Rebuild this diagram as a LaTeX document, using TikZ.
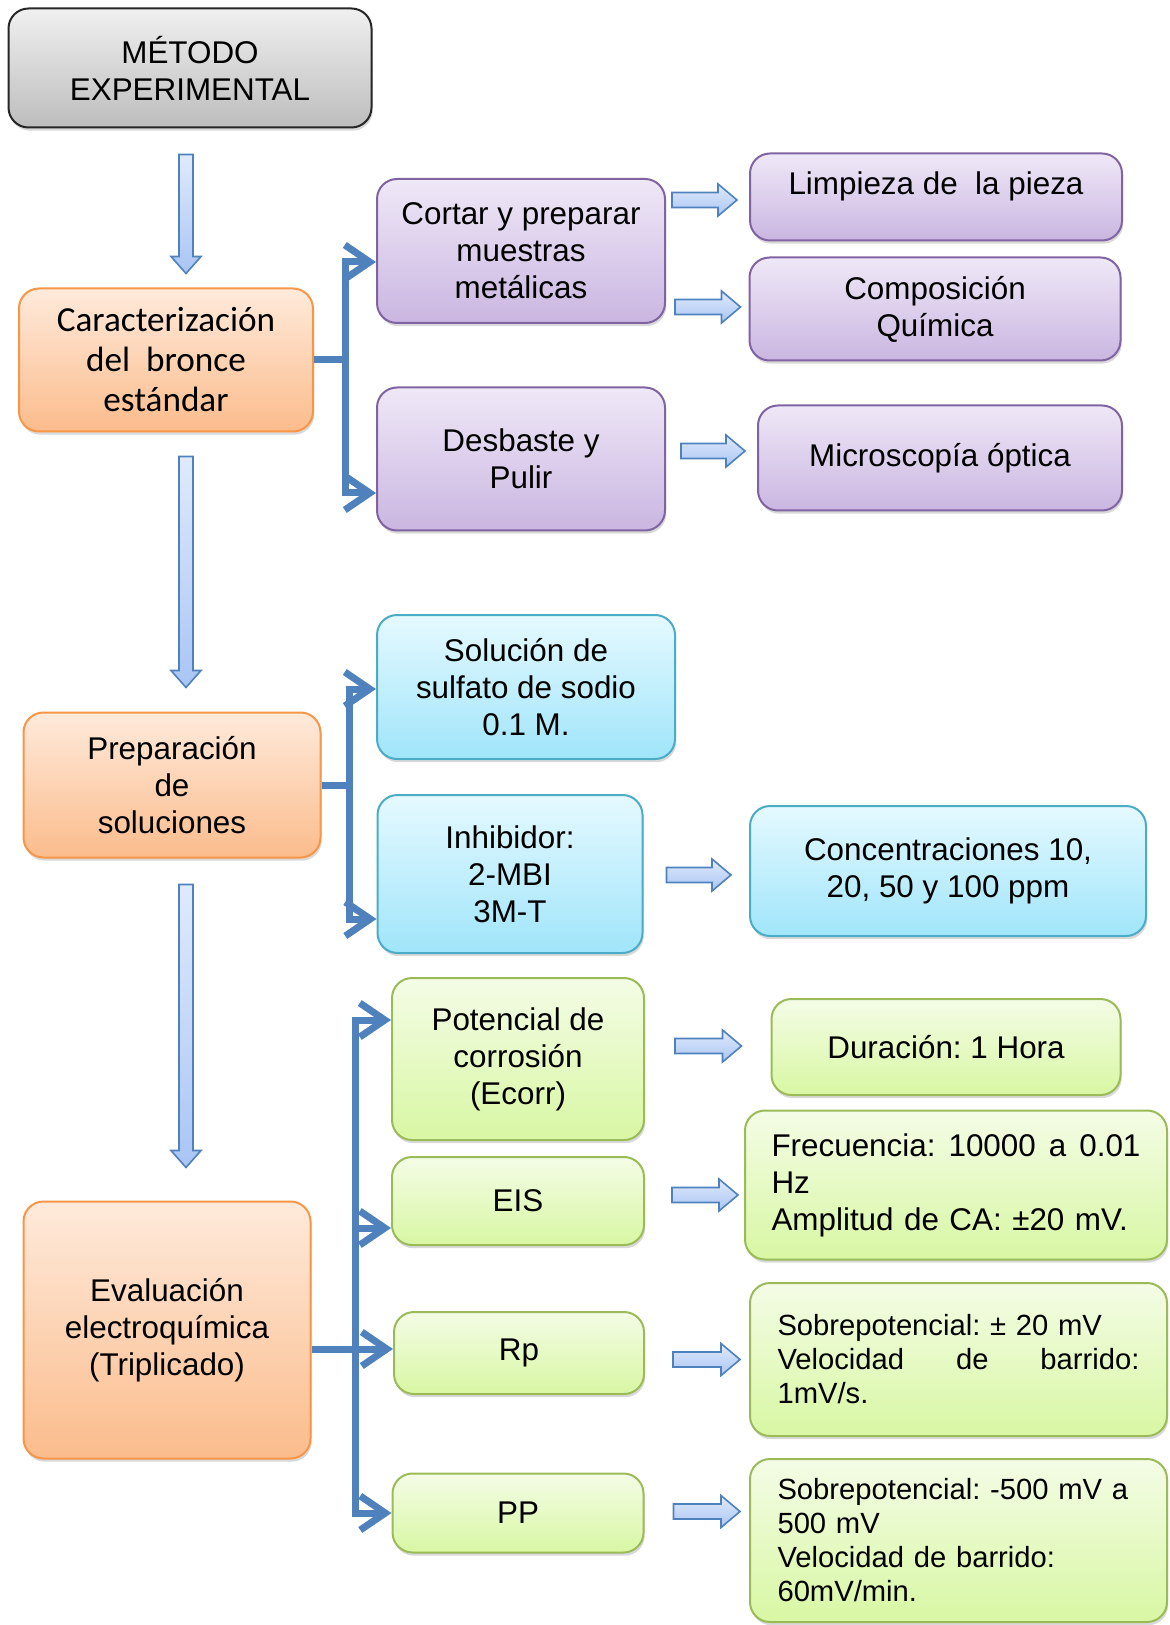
\documentclass[tikz,border=0pt]{standalone}
\usepackage{fontspec}
\setmainfont{Liberation Sans}
\newfontfamily\calibri{Carlito}
\usetikzlibrary{arrows.meta, calc, shadows}

\definecolor{gristop}{HTML}{F0F0F0}
\definecolor{grisbot}{HTML}{BDBDBD}
\definecolor{nartop}{HTML}{FEEADB}
\definecolor{narbot}{HTML}{FBBC8C}
\definecolor{narline}{HTML}{F79646}
\definecolor{lilatop}{HTML}{EFE8F7}
\definecolor{lilabot}{HTML}{CAB6E1}
\definecolor{lilaline}{HTML}{8064A2}
\definecolor{celtop}{HTML}{E5F9FF}
\definecolor{celbot}{HTML}{A0E5FA}
\definecolor{celline}{HTML}{4BACC6}
\definecolor{vertop}{HTML}{F4FCE6}
\definecolor{verbot}{HTML}{D8F7A3}
\definecolor{verline}{HTML}{9BBB59}
\definecolor{arrtop}{HTML}{E0EAFB}
\definecolor{arrbot}{HTML}{A9C5F4}
\definecolor{brkblue}{HTML}{4F81BD}

\begin{document}
\frenchspacing
\begin{tikzpicture}[x=0.5pt, y=-0.5pt,
	box/.style={draw, rounded corners=10pt, line width=1pt, align=center,
		font=\fontsize{15.7}{18.5}\selectfont,
		drop shadow={shadow xshift=0.6pt, shadow yshift=-1.6pt, opacity=0.3}},
	wh/.style 2 args={minimum width=#1*0.5pt, minimum height=#2*0.5pt},
	gris/.style={box, draw=black!85, top color=gristop, bottom color=grisbot},
	naranja/.style={box, draw=narline, top color=nartop, bottom color=narbot},
	lila/.style={box, draw=lilaline, top color=lilatop, bottom color=lilabot},
	celeste/.style={box, draw=celline, top color=celtop, bottom color=celbot},
	verde/.style={box, draw=verline, top color=vertop, bottom color=verbot},
	detalle/.style={align=left, font=\fontsize{14.6}{17}\selectfont},
	brk/.style={draw=brkblue, line width=3.5pt},
	brkarr/.style={brk, -{Straight Barb[length=12.5pt, width=17pt]}},
	fatarr/.style={draw=brkblue, line width=0.8pt, top color=arrtop, bottom color=arrbot}]
	
	\useasboundingbox (0,0) rectangle (1169,1625);
	
	%Cajas
	\node (metodo) [gris, wh={363}{119}] at (190,68) {MÉTODO\\EXPERIMENTAL};
	\node (caract) [naranja, wh={294}{143}, font=\calibri\fontsize{17.6}{20}\selectfont] at (166,360) {Caracterización\\del\ \ bronce\\estándar};
	\node (prep) [naranja, wh={297}{145}] at (172,785) {Preparación\\de\\soluciones};
	\node (eval) [naranja, wh={287}{257}] at (167,1330) {Evaluación\\electroquímica\\(Triplicado)};
	
	\node (cortar) [lila, wh={288}{144}] at (521,251) {Cortar y preparar\\muestras\\metálicas};
	\node (desbaste) [lila, wh={288}{143}] at (521,459) {Desbaste y\\Pulir};
	\node (limpieza) [lila, wh={372}{87}, text height=12pt, text depth=14pt] at (936,197) {Limpieza de\ \ la pieza};
	\node (compo) [lila, wh={371}{103}] at (935,309) {Composición\\Química};
	\node (micro) [lila, wh={364}{105}] at (940,458) {Microscopía óptica};
	
	\node (solucion) [celeste, wh={298}{144}] at (526,687) {Solución de\\sulfato de sodio\\0.1 M.};
	\node (inhib) [celeste, wh={265}{158}] at (510,874) {Inhibidor:\\2-MBI\\3M-T};
	\node (conc) [celeste, wh={396}{130}] at (948,871) {Concentraciones 10,\\20, 50 y 100 ppm};
	
	\node (ecorr) [verde, wh={252}{162}] at (518,1059) {Potencial de\\corrosión\\(Ecorr)};
	\node (eis) [verde, wh={252}{88}] at (518,1201) {EIS};
	\node (rp) [verde, wh={250}{82}] at (519,1353) {Rp};
	\node (pp) [verde, wh={251}{79}] at (518,1513) {PP};
	\node (durac) [verde, wh={349}{96}] at (946,1047) {Duración: 1 Hora};
	\node (frec) [verde, wh={422}{149}, align=left, text width=184.5pt] at (956,1185)
		{Frecuencia:\hfill 10000\hfill a\hfill 0.01\\Hz\\Amplitud de CA: ±20 mV.};
	\node (velo) [verde, detalle, wh={417}{153}, text width=181pt] at (958.5,1359.5)
		{Sobrepotencial: ± 20 mV\\Velocidad\hfill de\hfill barrido:\\1mV/s.};
	\node (barr) [verde, detalle, wh={417}{163}, text width=181pt] at (958.5,1540.5)
		{Sobrepotencial: -500 mV a\\500 mV\\Velocidad de barrido:\\60mV/min.};
	
	%Flechas grandes
	\coordinate (spine) at ($(metodo.south)+(-4,0)$);
	\foreach \a/\b/\s/\e in {metodo/caract/26/14, caract/prep/24/24, prep/eval/26/33} {
		\coordinate (s) at ($(spine |- \a.south)+(0,\s)$);
		\coordinate (e) at ($(spine |- \b.north)+(0,-\e)$);
		\draw[fatarr] ($(s)+(-7,0)$) -- ($(e)+(-7,-17)$) -- ($(e)+(-15,-17)$) -- (e)
			-- ($(e)+(15,-17)$) -- ($(e)+(7,-17)$) -- ($(s)+(7,0)$) -- cycle;
	}
	\foreach \a/\b/\dy/\s/\e in {cortar/limpieza/3/6/12, cortar/compo/-2/9/8,
		desbaste/micro/-7/15/12, inhib/conc/4/23/18, ecorr/durac/-1/30/29,
		eis/frec/10/27/6, rp/velo/0/28/9, pp/barr/-29/29/9} {
		\coordinate (s) at ($(\a.east |- \b.west)+(\s,\dy)$);
		\coordinate (e) at ($(\b.west)+(-\e,\dy)$);
		\draw[fatarr] ($(s)+(0,-7.5)$) -- ($(e)+(-19,-7.5)$) -- ($(e)+(-19,-16)$) -- (e)
			-- ($(e)+(-19,16)$) -- ($(e)+(-19,7.5)$) -- ($(s)+(0,7.5)$) -- cycle;
	}
	
	%Conectores
	\coordinate (j1) at ($(caract.east)+(31,0)$);
	\draw[brk] (caract.east) -- (j1);
	\draw[brkarr] (j1) |- ($(cortar.west)+(0,11)$);
	\draw[brkarr] (j1) |- ($(desbaste.west)+(0,34)$);
	
	\coordinate (j2) at ($(prep.east)+(28,0)$);
	\draw[brk] (prep.east) -- (j2);
	\draw[brkarr] (j2) |- ($(solucion.west)+(0,2)$);
	\draw[brkarr] (j2) |- ($(inhib.west)+(0,45)$);
	
	\coordinate (j3) at ($(eval.east)+(44,19)$);
	\draw[brk] ($(eval.east)+(0,19)$) -- (j3);
	\draw[brkarr] (j3) |- ($(ecorr.west)+(0,-39)$);
	\draw[brkarr] (j3) |- ($(eis.west)+(0,27)$);
	\draw[brkarr] (j3) -- (j3 -| rp.west);
	\draw[brkarr] (j3) |- (pp.west);
	
\end{tikzpicture}
\end{document}
